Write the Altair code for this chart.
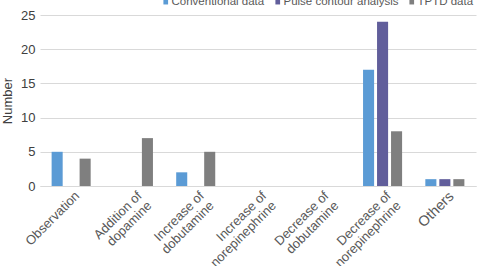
import altair as alt
import pandas as pd

categories = ["Observation", "Addition of\ndopamine", "Increase of\ndobutamine",
              "Increase of\nnorepinephrine", "Decrease of\ndobutamine",
              "Decrease of\nnorepinephrine", "Others"]
series = ["Conventional data", "Pulse contour analysis", "TPTD data"]
conventional = [5, 0, 2, 0, 0, 17, 1]
pulse_contour = [0, 0, 0, 0, 0, 24, 1]
tptd = [4, 7, 5, 0, 0, 8, 1]
colors = ["#5B9BD5", "#615E9B", "#7F7F7F"]

rows = []
for s, vals in zip(series, [conventional, pulse_contour, tptd]):
    for c, v in zip(categories, vals):
        rows.append({"category": c, "series": s, "value": v})
df = pd.DataFrame(rows)

FONT = "Liberation Sans"
TXT = "#595959"

chart = alt.Chart(df).mark_bar().encode(
    x=alt.X("category:N", sort=categories,
            scale=alt.Scale(paddingInner=0, paddingOuter=0),
            axis=alt.Axis(title=None, labelAngle=-45, labelAlign="right",
                          labelBaseline="top",
                          labelExpr="split(datum.label, '\\n')",
                          labelFontSize={"condition": {"test": "datum.value == 'Others'", "value": 14.5}, "value": 13},
                          labelLineHeight=14, labelPadding=3, labelOffset=2,
                          ticks=False, domain=True, domainColor="#D9D9D9",
                          labelColor=TXT, labelFont=FONT)),
    xOffset=alt.XOffset("series:N", sort=series,
                        scale=alt.Scale(paddingInner=0.21, paddingOuter=0.83)),
    y=alt.Y("value:Q", scale=alt.Scale(domain=[0, 25]),
            axis=alt.Axis(title="Number", values=[0, 5, 10, 15, 20, 25],
                          ticks=False, domain=False, gridColor="#D9D9D9",
                          labelFontSize=13, labelColor="#404040", labelFont=FONT,
                          labelPadding=5, titleFont=FONT, titleFontSize=13,
                          titleFontWeight="normal", titleColor="#404040",
                          titlePadding=6)),
    color=alt.Color("series:N", sort=series,
                    scale=alt.Scale(domain=series, range=colors),
                    legend=alt.Legend(title=None, orient="none", direction="horizontal",
                                      legendX=120, legendY=-19,
                                      symbolType="square", symbolSize=22,
                                      labelFontSize=11.5, labelFont=FONT, labelColor=TXT,
                                      labelOffset=0, columnPadding=7,
                                      symbolStrokeWidth=0)),
).properties(width=436, height=171).configure_view(stroke=None).properties(
    autosize=alt.AutoSizeParams(type="none"),
    padding={"left": 40, "top": 15, "right": 3, "bottom": 80},
    background="white",
)

chart.save("out.html", embed_options={"renderer": "svg", "actions": False})
